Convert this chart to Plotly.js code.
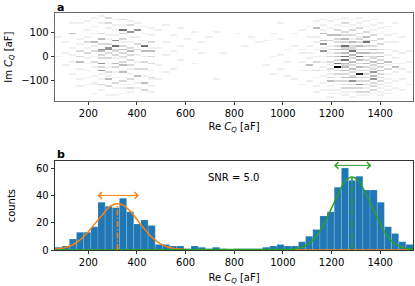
<!DOCTYPE html>
<html><head><meta charset="utf-8">
<script src="https://cdn.plot.ly/plotly-3.0.1.min.js"></script>
<style>html,body{margin:0;padding:0;background:#fff}#chart{width:415px;height:286px}</style>
</head><body><div id="chart"></div>
<script>
// ---- data ----
const reMin = 63, reMax = 1535, nReBins = 50;
const imMin = -183, imMax = 180, nImBins = 50;
const xTicks = [200, 400, 600, 800, 1000, 1200, 1400];
const imTicks = [-100, 0, 100];
const countTicks = [0, 20, 40, 60];

// histogram counts per Re bin (panel b)
const histCounts = [2,3,8,13,13,17,35,32,31,38,28,19,22,18,4,4,3,3,1,3,
                    2,1,2,1,0,1,1,1,1,2,3,4,3,3,6,10,15,25,28,46,
                    60,51,54,44,44,35,17,12,6,4];

// 2D histogram (panel a): per Re bin column, list of [Im bin row, count]
const cellColumns = [
 [[36,1],[25,1]],
 [[33,1],[20,1],[27,1]],
 [[38,3],[30,1],[22,1],[15,1],[26,1],[44,1]],
 [[44,1],[35,1],[32,1],[28,2],[22,3],[18,1],[12,1],[25,2],[8,1]],
 [[45,1],[40,1],[36,1],[33,2],[30,1],[27,2],[24,1],[21,1],[17,1],[13,1],[9,1]],
 [[47,1],[42,1],[38,1],[33,3],[31,1],[28,2],[25,1],[22,2],[19,1],[14,1],[10,1],[9,1],[4,1]],
 [[48,1],[44,1],[38,2],[35,3],[32,2],[29,4],[28,3],[26,2],[24,2],[21,4],[19,2],[17,4],[15,1],[12,1],[9,2],[6,1]],
 [[47,2],[44,2],[41,1],[37,1],[35,1],[32,2],[30,4],[29,4],[27,2],[24,2],[21,1],[19,1],[16,2],[14,1],[12,3],[8,2],[3,1]],
 [[46,1],[43,1],[40,1],[37,1],[34,4],[31,5],[29,2],[28,2],[26,2],[24,1],[21,3],[19,2],[16,1],[13,1],[10,2],[7,1],[3,1]],
 [[46,2],[43,1],[40,5],[38,2],[35,2],[33,1],[31,2],[29,3],[27,2],[25,2],[24,1],[22,2],[20,3],[17,1],[16,3],[13,1],[11,2],[9,1],[7,1],[4,1]],
 [[45,1],[43,2],[39,4],[36,1],[33,1],[30,2],[28,3],[26,2],[23,2],[20,2],[18,1],[15,1],[12,2],[9,1],[7,2],[5,1]],
 [[44,1],[40,4],[36,1],[32,2],[29,2],[26,1],[22,1],[18,2],[14,3],[10,1],[7,1]],
 [[42,1],[38,1],[34,1],[31,5],[28,3],[25,1],[22,2],[18,2],[14,1],[10,3],[6,2]],
 [[41,1],[37,1],[33,2],[30,1],[28,3],[25,2],[21,2],[17,1],[13,2],[12,1],[8,1],[5,1]],
 [[40,1],[30,1],[20,1],[12,1]],
 [[43,1],[33,1],[26,1],[16,1]],
 [[37,1],[28,1],[18,1]],
 [[41,1],[31,1],[23,1]],
 [[35,1]],
 [[39,1],[29,1],[21,1]],
 [[33,1],[27,1]],
 [[36,1]],
 [[39,1],[12,1]],
 [[27,1]],
 [],
 [[38,1]],
 [[31,1]],
 [[36,1]],
 [[33,1]],
 [[34,1],[20,1]],
 [[38,1],[25,1],[15,1]],
 [[44,1],[35,1],[26,1],[18,1]],
 [[29,1],[22,1],[14,1]],
 [[38,1],[31,1],[12,1]],
 [[40,1],[29,1],[27,1],[22,1],[17,1],[9,1]],
 [[42,1],[36,1],[31,1],[27,1],[24,1],[20,3],[17,1],[11,1]],
 [[45,1],[41,3],[36,1],[33,1],[29,1],[25,1],[22,2],[17,2],[13,1],[8,1],[5,1]],
 [[46,1],[43,1],[40,1],[38,3],[34,3],[32,4],[30,1],[28,4],[25,1],[22,1],[19,1],[17,1],[14,1],[10,1],[6,1]],
 [[45,1],[41,1],[37,3],[34,2],[31,1],[29,2],[27,1],[25,2],[22,2],[20,1],[18,2],[15,1],[13,2],[11,3],[8,1],[6,1],[4,1],[2,1]],
 [[46,1],[43,1],[40,2],[37,3],[35,2],[33,2],[31,2],[29,3],[27,2],[25,3],[23,2],[21,5],[19,8],[17,2],[15,2],[13,1],[11,2],[9,1],[6,1],[4,1]],
 [[47,1],[44,2],[42,1],[39,2],[37,2],[35,3],[33,2],[31,5],[30,2],[29,3],[27,3],[25,5],[23,5],[21,3],[20,2],[19,3],[17,3],[15,2],[13,3],[11,2],[9,2],[7,2],[5,1],[3,1]],
 [[46,1],[43,1],[40,2],[37,2],[35,1],[33,3],[31,2],[30,2],[29,2],[28,5],[26,3],[24,2],[22,3],[20,2],[18,3],[16,2],[14,2],[13,3],[11,4],[9,2],[7,2],[5,1],[2,1]],
 [[47,1],[44,1],[41,2],[38,2],[36,1],[35,2],[33,2],[31,3],[29,2],[27,3],[25,5],[23,3],[21,2],[19,3],[17,2],[15,7],[13,2],[11,2],[9,4],[7,2],[5,2],[3,1]],
 [[45,1],[42,1],[39,2],[36,3],[34,2],[33,5],[31,2],[29,2],[27,3],[25,2],[23,2],[21,3],[19,2],[17,2],[15,2],[13,2],[11,2],[9,2],[7,1],[5,2],[3,1]],
 [[46,1],[43,1],[40,1],[37,2],[34,2],[31,2],[29,3],[27,2],[25,2],[24,2],[22,3],[20,2],[19,1],[18,2],[16,4],[14,3],[12,4],[10,2],[8,2],[6,2],[4,1]],
 [[44,1],[41,1],[38,1],[35,2],[32,2],[29,2],[27,2],[25,3],[23,2],[21,3],[19,2],[17,3],[15,2],[13,2],[11,2],[9,2],[7,1],[5,1],[3,1]],
 [[42,1],[37,1],[33,1],[29,1],[26,1],[22,3],[20,1],[18,2],[15,1],[12,1],[10,1],[8,1],[6,1],[4,1]],
 [[44,1],[38,1],[33,1],[28,1],[24,1],[21,1],[19,3],[16,1],[11,1],[7,1]],
 [[36,1],[27,1],[21,1],[18,1],[12,1],[6,1]],
 [[28,1],[22,1],[16,1],[9,1]]
];

// Gaussian fits: [mean, sigma, amplitude]
const orangeFit = [320, 88, 34];
const greenFit = [1284, 80, 53.5];
const orangeArrowY = 40;
const greenArrowY = 62;
const snrText = 'SNR = 5.0';
const snrPos = [796, 53];

// ---- build ----
const reStep = (reMax - reMin) / nReBins;
const imStep = (imMax - imMin) / nImBins;
const reCenters = histCounts.map((_, k) => reMin + reStep * (k + 0.5));
const imCenters = Array.from({length: nImBins}, (_, j) => imMin + imStep * (j + 0.5));
const z = imCenters.map(() => reCenters.map(() => 0));
cellColumns.forEach((col, k) => col.forEach(([j, c]) => { z[j][k] += c; }));

function gauss(fit) {
  const xs = [], ys = [];
  const n = 400;
  for (let i = 0; i <= n; i++) {
    const x = reMin + (reMax - reMin) * i / n;
    xs.push(x);
    ys.push(fit[2] * Math.exp(-0.5 * Math.pow((x - fit[0]) / fit[1], 2)));
  }
  return {xs, ys};
}
const go = gauss(orangeFit), gg = gauss(greenFit);
const ORANGE = '#ff7f0e', GREEN = '#2ca02c', BLUE = '#1f77b4';
const greys = [[0,'#ffffff'],[0.125,'#f0f0f0'],[0.25,'#d9d9d9'],[0.375,'#bdbdbd'],[0.5,'#969696'],
               [0.625,'#737373'],[0.75,'#525252'],[0.875,'#252525'],[1,'#000000']];

const traces = [
  {type:'heatmap', x: reCenters, y: imCenters, z: z, colorscale: greys, zmin: 0, zmax: 8,
   showscale: false, hoverinfo: 'skip', xaxis: 'x', yaxis: 'y', zsmooth: false},
  {type:'bar', x: reCenters, y: histCounts, width: reStep, marker: {color: BLUE, line: {color: 'rgba(255,255,255,0.3)', width: 0.5}},
   xaxis: 'x2', yaxis: 'y2', hoverinfo: 'skip'},
  {type:'scatter', mode:'lines', x: go.xs, y: go.ys, line: {color: ORANGE, width: 1.5}, xaxis:'x2', yaxis:'y2', hoverinfo:'skip'},
  {type:'scatter', mode:'lines', x: gg.xs, y: gg.ys, line: {color: GREEN, width: 1.5}, xaxis:'x2', yaxis:'y2', hoverinfo:'skip'},
  {type:'scatter', mode:'lines', x: [orangeFit[0], orangeFit[0]], y: [0, orangeFit[2]], line: {color: ORANGE, width: 1.5, dash: '6px,2px,1.5px,2px'}, xaxis:'x2', yaxis:'y2', hoverinfo:'skip'},
  {type:'scatter', mode:'lines', x: [greenFit[0], greenFit[0]], y: [0, greenFit[2]], line: {color: GREEN, width: 1.5, dash: '6px,2px,1.5px,2px'}, xaxis:'x2', yaxis:'y2', hoverinfo:'skip'}
];

const W = 415, H = 286;
const px = v => v / W, py = v => 1 - v / H;
const font = {family: 'DejaVu Sans, sans-serif', size: 10, color: '#000'};
const axisBase = {ticks: 'outside', ticklen: 3.5, tickwidth: 0.8, tickcolor: '#000', showline: true, mirror: true,
  linewidth: 0.8, showgrid: false, zeroline: false, tickfont: font, fixedrange: true};

function arrow(fit, y, color) {
  return {x: fit[0] + fit[1], y: y, ax: fit[0] - fit[1], ay: y, xref: 'x2', yref: 'y2', axref: 'x2', ayref: 'y2',
    text: '', showarrow: true, arrowhead: 4, startarrowhead: 4, arrowside: 'end+start', arrowsize: 1.3, startarrowsize: 1.3,
    arrowwidth: 1, arrowcolor: color};
}

const layout = {
  width: W, height: H, margin: {l: 0, r: 0, t: 0, b: 0}, paper_bgcolor: '#fff', plot_bgcolor: '#fff',
  showlegend: false, font: font, bargap: 0,
  xaxis: Object.assign({}, axisBase, {domain: [px(55), px(413)], range: [reMin, reMax], anchor: 'y', tickvals: xTicks,
    linecolor: '#444', title: {text: 'Re <i>C</i><sub><i>Q</i></sub> [aF]', font: font, standoff: 4}}),
  yaxis: Object.assign({}, axisBase, {domain: [py(101), py(13.3)], range: [imMin, imMax], anchor: 'x', tickvals: imTicks,
    linecolor: '#444', title: {text: 'Im <i>C</i><sub><i>Q</i></sub> [aF]', font: font, standoff: 6}}),
  xaxis2: Object.assign({}, axisBase, {domain: [px(55), px(413)], range: [reMin, reMax], anchor: 'y2', tickvals: xTicks,
    linecolor: '#000', title: {text: 'Re <i>C</i><sub><i>Q</i></sub> [aF]', font: font, standoff: 6}}),
  yaxis2: Object.assign({}, axisBase, {domain: [py(250), py(161.3)], range: [0, 65], anchor: 'x2', tickvals: countTicks,
    linecolor: '#000', title: {text: 'counts', font: font, standoff: 18}}),
  annotations: [
    {xref: 'paper', yref: 'paper', x: px(55), y: py(7), xanchor: 'left', yanchor: 'middle', showarrow: false,
     text: '<b>a</b>', font: {family: 'DejaVu Sans, sans-serif', size: 11, color: '#000'}},
    {xref: 'paper', yref: 'paper', x: px(55), y: py(154), xanchor: 'left', yanchor: 'middle', showarrow: false,
     text: '<b>b</b>', font: {family: 'DejaVu Sans, sans-serif', size: 11, color: '#000'}},
    {xref: 'x2', yref: 'y2', x: snrPos[0], y: snrPos[1], showarrow: false, text: snrText, font: font},
    arrow(orangeFit, orangeArrowY, ORANGE),
    arrow(greenFit, greenArrowY, GREEN)
  ]
};

Plotly.newPlot('chart', traces, layout, {staticPlot: true, displayModeBar: false});
</script>
</body></html>
